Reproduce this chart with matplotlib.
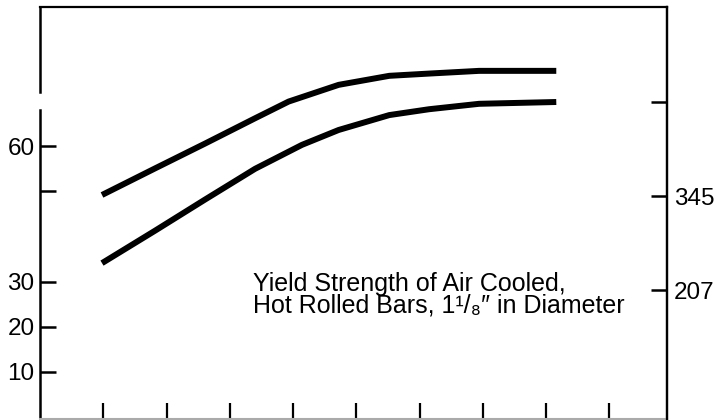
import matplotlib
matplotlib.use("Agg")
import matplotlib.pyplot as plt

plt.rcParams['font.family'] = ['Liberation Sans', 'DejaVu Sans']

# Data (x in arbitrary units, strength in ksi)
upper_x = [0.98, 1.82, 2.61, 3.40, 3.93, 4.72, 5.52, 6.15, 6.94, 8.16]
upper_ksi = [49.2, 55.1, 60.6, 66.2, 69.9, 73.6, 75.6, 76.1, 76.7, 76.7]
lower_x = [0.98, 1.82, 2.61, 3.40, 4.14, 4.72, 5.52, 6.15, 6.94, 8.16]
lower_ksi = [34.1, 41.3, 48.2, 55.0, 60.3, 63.6, 66.9, 68.2, 69.4, 69.8]

x_ticks = [1, 2, 3, 4, 5, 6, 7, 8, 9]
left_ticks = [10, 20, 30, 50, 60]
left_labels = ['10', '20', '30', '', '60']
right_ticks = [207, 345, 483]
right_labels = ['207', '345', '']

label1 = "Yield Strength of Air Cooled,"
label2 = "Hot Rolled Bars, 1\u00b9/\u2088\u2033 in Diameter"

W, H = 718, 420
fig = plt.figure(figsize=(W / 100, H / 100), dpi=100)
ax = fig.add_axes([40 / W, 1 / H, 627 / W, 412 / H])

ylo, yhi = -0.44, 90.85
ax.set_xlim(0, 9.91)
ax.set_ylim(ylo, yhi)

ax.plot(upper_x, upper_ksi, color='black', lw=4.3, solid_capstyle='butt', solid_joinstyle='round')
ax.plot(lower_x, lower_ksi, color='black', lw=4.3, solid_capstyle='butt', solid_joinstyle='round')

# spines
for s in ['top', 'right']:
    ax.spines[s].set_linewidth(1.6)
ax.spines['bottom'].set_color('#aaaaaa')
ax.spines['bottom'].set_linewidth(1.5)
ax.spines['left'].set_visible(False)
# broken left spine
gap_lo, gap_hi = 68.0, 72.0
ax.plot([0, 0], [ylo, gap_lo], color='black', lw=1.8, clip_on=False, transform=ax.get_yaxis_transform())
ax.plot([0, 0], [gap_hi, yhi], color='black', lw=1.8, clip_on=False, transform=ax.get_yaxis_transform())

ax.set_xticks(x_ticks)
ax.set_xticklabels([])
ax.tick_params(axis='x', direction='in', length=11.5, width=1.6, color='black')

ax.set_yticks(left_ticks)
ax.set_yticklabels(left_labels)
ax.tick_params(axis='y', direction='in', length=11.5, width=1.8, pad=4, labelsize=17.5, color='black')

ax2 = ax.twinx()
ax2.set_ylim(17.6, 622.6)
ax2.set_yticks(right_ticks)
ax2.set_yticklabels(right_labels)
ax2.tick_params(axis='y', direction='in', length=11.5, width=1.8, pad=5, labelsize=17.5, color='black')
for s in ['top', 'bottom', 'left']:
    ax2.spines[s].set_visible(False)
ax2.spines['right'].set_linewidth(1.6)

fig.text(253 / W, 1 - 291.5 / H, label1, fontsize=18, va='baseline', ha='left')
fig.text(253 / W, 1 - 312.5 / H, label2, fontsize=18, va='baseline', ha='left')

fig.savefig('out.png', dpi=100)
